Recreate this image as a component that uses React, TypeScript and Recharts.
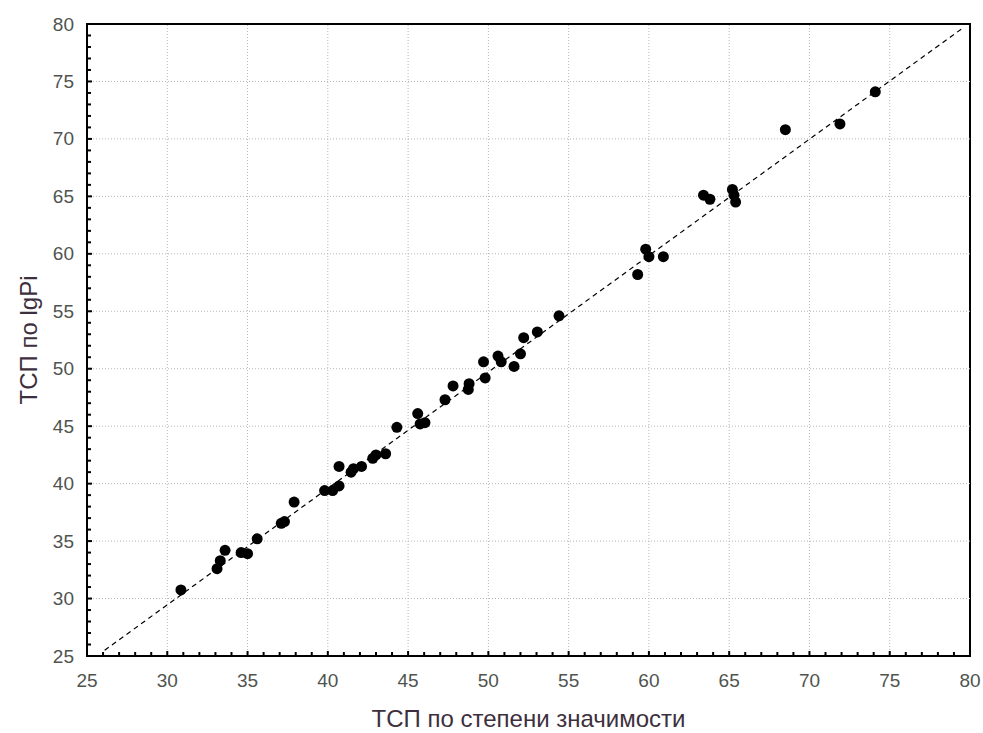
import { ScatterChart, Scatter, XAxis, YAxis, ReferenceLine, ReferenceArea, Label } from 'recharts';

// ТСП по степени значимости (x) vs ТСП по lgPi (y)
const xSignificance = [
  30.85, 33.1, 33.3, 33.6, 34.6, 35.0, 35.6, 37.1, 37.3, 37.9,
  39.8, 40.3, 40.7, 40.7, 41.45, 41.6, 42.1, 42.8, 43.0, 43.6,
  44.3, 45.6, 45.75, 46.05, 47.3, 47.8, 48.75, 48.8, 49.8, 49.7,
  50.6, 50.8, 51.6, 52.0, 52.2, 53.05, 54.4, 59.3, 59.8, 60.0,
  60.9, 63.4, 63.8, 65.2, 65.3, 65.4, 68.5, 71.9, 74.1,
];
const yLgPi = [
  30.75, 32.6, 33.3, 34.2, 34.0, 33.9, 35.2, 36.55, 36.7, 38.4,
  39.4, 39.4, 39.8, 41.5, 41.0, 41.3, 41.5, 42.2, 42.5, 42.6,
  44.9, 46.1, 45.2, 45.3, 47.3, 48.5, 48.2, 48.7, 49.2, 50.6,
  51.1, 50.6, 50.2, 51.3, 52.7, 53.2, 54.6, 58.2, 60.4, 59.75,
  59.75, 65.1, 64.75, 65.6, 65.1, 64.5, 70.8, 71.3, 74.1,
];

const axisDomain: [number, number] = [25, 80];
const allTicks = Array.from({ length: 56 }, (_, i) => 25 + i);
const majorGrid = [30, 35, 40, 45, 50, 55, 60, 65, 70, 75];
const fitLine = [
  { x: 26.1, y: 25.5 },
  { x: 79.6, y: 79.7 },
];

const points = xSignificance.map((x, i) => ({ x, y: yLgPi[i] }));

const FONT = '"Liberation Sans", Arial, sans-serif';
const TICK_COLOR = '#4f544f';
const TITLE_COLOR = '#3d2f3d';

const tickLen = (v: number) => (v % 5 === 0 ? 5 : 4);

function BottomTick({ x, y, payload }: any) {
  const v = payload.value;
  return (
    <g>
      <line x1={x} x2={x} y1={y} y2={y - tickLen(v)} stroke="#000" strokeWidth={2} />
      {v % 5 === 0 && (
        <text x={x} y={y + 24} textAnchor="middle" dominantBaseline="central" fontSize={19} fill={TICK_COLOR} fontFamily={FONT}>
          {v}
        </text>
      )}
    </g>
  );
}

function TopTick({ x, y, payload }: any) {
  return <line x1={x} x2={x} y1={y} y2={y + tickLen(payload.value)} stroke="#000" strokeWidth={2} />;
}

function LeftTick({ x, y, payload }: any) {
  const v = payload.value;
  return (
    <g>
      <line x1={x} x2={x + tickLen(v)} y1={y} y2={y} stroke="#000" strokeWidth={2} />
      {v % 5 === 0 && (
        <text x={x - 13} y={y} textAnchor="end" dominantBaseline="central" fontSize={19} fill={TICK_COLOR} fontFamily={FONT}>
          {v}
        </text>
      )}
    </g>
  );
}

function RightTick({ x, y, payload }: any) {
  return <line x1={x} x2={x - tickLen(payload.value)} y1={y} y2={y} stroke="#000" strokeWidth={2} />;
}

const Dot = (props: any) => <circle cx={props.cx} cy={props.cy} r={5.5} fill="#000" />;

export default function App() {
  return (
    <div style={{ position: 'absolute', left: 0, top: 0, width: 983, height: 733, background: '#fff' }}>
      <ScatterChart width={983} height={733} margin={{ top: 23, right: 12, bottom: 76, left: 86 }}>
        <XAxis
          xAxisId="b"
          type="number"
          dataKey="x"
          domain={axisDomain}
          ticks={allTicks}
          interval={0}
          height={1}
          tickSize={0}
          tickMargin={0}
          axisLine={false}
          tickLine={false}
          tick={(p: any) => <BottomTick {...p} />}
        >
          <Label
            content={({ viewBox }: any) => (
              <text
                x={viewBox.x + viewBox.width / 2}
                y={viewBox.y + 62}
                textAnchor="middle"
                dominantBaseline="central"
                fontSize={24}
                fill={TITLE_COLOR}
                fontFamily={FONT}
              >
                ТСП по степени значимости
              </text>
            )}
          />
        </XAxis>
        <XAxis
          xAxisId="t"
          orientation="top"
          type="number"
          dataKey="x"
          domain={axisDomain}
          ticks={allTicks}
          interval={0}
          height={1}
          tickSize={0}
          tickMargin={0}
          axisLine={false}
          tickLine={false}
          tick={(p: any) => <TopTick {...p} />}
        />
        <YAxis
          yAxisId="l"
          type="number"
          dataKey="y"
          domain={axisDomain}
          ticks={allTicks}
          interval={0}
          width={1}
          tickSize={0}
          tickMargin={0}
          axisLine={false}
          tickLine={false}
          tick={(p: any) => <LeftTick {...p} />}
        >
          <Label
            content={({ viewBox }: any) => {
              const cx = viewBox.x - 58;
              const cy = viewBox.y + viewBox.height / 2;
              return (
                <text
                  x={cx}
                  y={cy}
                  transform={`rotate(-90 ${cx} ${cy})`}
                  textAnchor="middle"
                  dominantBaseline="central"
                  fontSize={24}
                  fill={TITLE_COLOR}
                  fontFamily={FONT}
                >
                  ТСП по lgPi
                </text>
              );
            }}
          />
        </YAxis>
        <YAxis
          yAxisId="r"
          orientation="right"
          type="number"
          dataKey="y"
          domain={axisDomain}
          ticks={allTicks}
          interval={0}
          width={1}
          tickSize={0}
          tickMargin={0}
          axisLine={false}
          tickLine={false}
          tick={(p: any) => <RightTick {...p} />}
        />
        {majorGrid.map((v) => (
          <ReferenceLine key={`gx${v}`} xAxisId="b" yAxisId="l" x={v} stroke="#b5b5b5" strokeDasharray="1 2" />
        ))}
        {majorGrid.map((v) => (
          <ReferenceLine key={`gy${v}`} xAxisId="b" yAxisId="l" y={v} stroke="#b5b5b5" strokeDasharray="1 2" />
        ))}
        <ReferenceLine
          xAxisId="b"
          yAxisId="l"
          segment={fitLine}
          stroke="#000"
          strokeWidth={1.2}
          strokeDasharray="5 4"
        />
        <Scatter xAxisId="b" yAxisId="l" data={points} shape={Dot} isAnimationActive={false} />
        <ReferenceArea
          xAxisId="b"
          yAxisId="l"
          x1={25}
          x2={80}
          y1={25}
          y2={80}
          fill="none"
          stroke="#000"
          strokeWidth={2}
        />
      </ScatterChart>
    </div>
  );
}
